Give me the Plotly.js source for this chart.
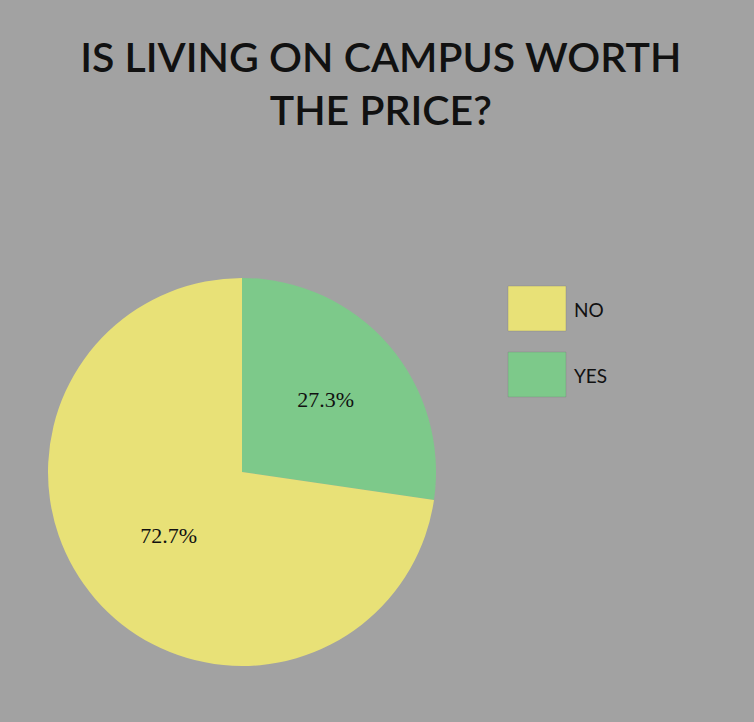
<!DOCTYPE html>
<html>
<head>
<meta charset="utf-8">
<script src="https://cdn.plot.ly/plotly-3.0.1.min.js"></script>
<style>html,body{margin:0;padding:0;background:#a2a2a2;}#chart{width:754px;height:722px;}</style>
</head>
<body>
<div id="chart"></div>
<script>
// Data
const categories = ["YES", "NO"];
const values = [27.3, 72.7];
const sliceColors = ["#7dc98a", "#e8e177"];
const legendOrder = ["NO", "YES"];
const titleText = "IS LIVING ON CAMPUS WORTH<br>THE PRICE?";

const W = 754, H = 722;
const px = v => v / W;
const py = v => 1 - v / H;

const trace = {
  type: "pie",
  labels: categories,
  values: values,
  marker: { colors: sliceColors, line: { width: 0 } },
  sort: false,
  direction: "clockwise",
  rotation: 0,
  texttemplate: "%{percent:.1%}",
  textposition: "inside",
  insidetextorientation: "horizontal",
  textfont: { family: "Liberation Serif, serif", size: 22, color: "#111111" },
  hoverinfo: "none",
  showlegend: false,
  domain: { x: [px(48), px(436)], y: [py(666), py(278)] }
};

const shapes = [];
const annotations = [];
const swatchTops = [286, 352];
legendOrder.forEach((name, i) => {
  const idx = categories.indexOf(name);
  const top = swatchTops[i];
  shapes.push({
    type: "rect", xref: "paper", yref: "paper",
    x0: px(508), x1: px(566), y0: py(top + 45), y1: py(top),
    fillcolor: sliceColors[idx], line: { width: 1, color: "rgba(120,120,120,0.35)" }
  });
  annotations.push({
    xref: "paper", yref: "paper", x: px(572), y: py(top + 23),
    xanchor: "left", yanchor: "middle", showarrow: false,
    text: name, font: { family: "Lato, sans-serif", size: 19, color: "#111111" }
  });
});

const layout = {
  width: W, height: H,
  margin: { l: 0, r: 0, t: 0, b: 0 },
  paper_bgcolor: "#a2a2a2",
  plot_bgcolor: "#a2a2a2",
  title: {
    text: titleText,
    font: { family: "Lato, sans-serif", size: 41, color: "#111111", weight: 600 },
    x: 0.505, xanchor: "center",
    yref: "container", y: 1 - 72 / H, yanchor: "top"
  },
  shapes: shapes,
  annotations: annotations
};

Plotly.newPlot("chart", [trace], layout, { displayModeBar: false, staticPlot: true });
</script>
</body>
</html>
